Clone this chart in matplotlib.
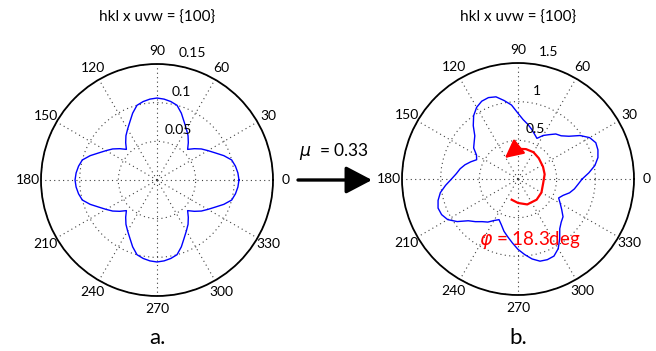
import numpy as np
import matplotlib.pyplot as plt

plt.rcParams['font.family'] = ['Lato', 'DejaVu Sans']

# angles of the sampled curves (deg)
angles_deg = np.arange(0, 360, 5)

# panel a: mu = 0
r_mu0 = [0.106, 0.105, 0.103, 0.100, 0.092, 0.083, 0.076, 0.070, 0.063,
         0.056, 0.063, 0.070, 0.076, 0.083, 0.092, 0.100, 0.103, 0.105,
         0.106, 0.105, 0.103, 0.100, 0.092, 0.083, 0.076, 0.070, 0.063,
         0.056, 0.063, 0.070, 0.076, 0.083, 0.092, 0.100, 0.103, 0.105,
         0.106, 0.105, 0.103, 0.100, 0.092, 0.083, 0.076, 0.070, 0.063,
         0.056, 0.063, 0.070, 0.076, 0.083, 0.092, 0.100, 0.103, 0.105,
         0.106, 0.105, 0.103, 0.100, 0.092, 0.083, 0.076, 0.070, 0.063,
         0.056, 0.063, 0.070, 0.076, 0.083, 0.092, 0.100, 0.103, 0.105]

# panel b: mu = 0.33
r_mu033 = [0.83, 0.92, 1.01, 1.07, 1.10, 1.11, 1.07, 0.98, 0.86,
           0.79, 0.76, 0.70, 0.65, 0.58, 0.62, 0.67, 0.72, 0.77,
           0.85, 0.96, 1.03, 1.10, 1.12, 1.11, 1.07, 1.00, 0.90,
           0.79, 0.74, 0.70, 0.62, 0.59, 0.65, 0.71, 0.76, 0.80,
           0.86, 0.94, 1.02, 1.07, 1.10, 1.09, 1.05, 0.96, 0.84,
           0.78, 0.72, 0.68, 0.62, 0.58, 0.63, 0.70, 0.76, 0.83,
           0.91, 0.98, 1.05, 1.10, 1.11, 1.10, 1.04, 0.94, 0.84,
           0.79, 0.76, 0.69, 0.63, 0.58, 0.62, 0.69, 0.74, 0.78]

# rotation arrow in panel b
rot_theta = [-107, -90, -70, -48, -30, -10, 10, 26, 45, 60, 75, 90, 98]
rot_r = [0.28, 0.31, 0.35, 0.36, 0.35, 0.33, 0.35, 0.36, 0.38, 0.40, 0.40, 0.39, 0.37]
rot_tip = (122, 0.32)

titles = ['hkl x uvw = {100}', 'hkl x uvw = {100}']
panel_labels = ['a.', 'b.']
rmax_vals = [0.15, 1.5]
rticks = [[0.05, 0.1, 0.15], [0.5, 1, 1.5]]
rtick_labels = [['0.05', '0.1', '0.15'], ['0.5', '1', '1.5']]
theta_ticks = np.arange(0, 360, 30)
mu_text = r'$\mu$  = 0.33'
phi_text = r'$\varphi$ = 18.3deg'

W, H = 656, 351
fig = plt.figure(figsize=(W / 100, H / 100), dpi=100)

centers = [(157, 180), (518, 179)]
R = 116
axes = []
for (cx, cy) in centers:
    ax = fig.add_axes([(cx - R) / W, (H - cy - R) / H, 2 * R / W, 2 * R / H],
                      projection='polar')
    axes.append(ax)

curves = [r_mu0, r_mu033]
for i, ax in enumerate(axes):
    rmax = rmax_vals[i]
    th = np.deg2rad(np.append(angles_deg, angles_deg[0]))
    rr = np.append(curves[i], curves[i][0])
    ax.plot(th, rr, color='#0000ff', lw=1.0)
    ax.set_ylim(0, rmax)
    ax.set_yticks(rticks[i])
    ax.set_yticklabels([])
    ax.set_xticks(np.deg2rad(theta_ticks))
    ax.set_xticklabels([])
    ax.grid(True, color='0.25', linestyle=(0, (1, 3)), lw=0.8)
    ax.spines['polar'].set_linewidth(1.3)
    ax.tick_params(length=0)
    for t in theta_ticks:
        ax.text(np.deg2rad(t), rmax * 1.11, str(t), ha='center', va='center',
                fontsize=10)
    for rv, lbl in zip(rticks[i], rtick_labels[i]):
        ax.text(np.deg2rad(80), rv + rmax * 0.055, lbl, ha='left', va='bottom',
                fontsize=10)
    fig.text(centers[i][0] / W, 1 - 18 / H, titles[i], ha='center',
             va='center', fontsize=11)
    fig.text(centers[i][0] / W, 1 - 338 / H, panel_labels[i], ha='center',
             va='center', fontsize=16)

# rotation arrow and angle
axb = axes[1]
axb.plot(np.deg2rad(rot_theta), rot_r, color='red', lw=1.6)
axb.annotate('', xy=(np.deg2rad(rot_tip[0]), rot_tip[1]),
             xytext=(np.deg2rad(rot_theta[-1]), rot_r[-1]),
             arrowprops=dict(arrowstyle='-|>,head_length=0.7,head_width=0.35',
                             color='red', lw=1.6, mutation_scale=16,
                             shrinkA=0, shrinkB=0))
fig.text(530 / W, 1 - 240 / H, phi_text, color='red', ha='center', va='center',
         fontsize=13.5)

# big arrow between panels
axes[0].annotate('', xy=(372 / W, 1 - 180 / H), xytext=(298 / W, 1 - 180 / H),
                 xycoords='figure fraction', textcoords='figure fraction',
                 annotation_clip=False,
                 arrowprops=dict(arrowstyle='-|>,head_length=0.8,head_width=0.42',
                                 color='black', lw=2.4, mutation_scale=20,
                                 shrinkA=0, shrinkB=0))
fig.text(334 / W, 1 - 152 / H, mu_text, ha='center', va='center', fontsize=12.5)

fig.savefig('out.png', dpi=100)
